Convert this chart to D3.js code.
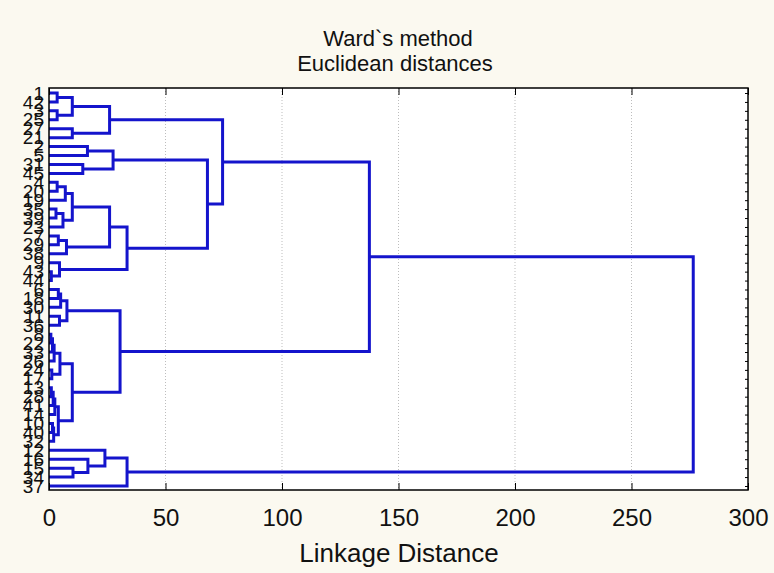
<!DOCTYPE html>
<html>
<head>
<meta charset="utf-8">
<script src="https://cdn.jsdelivr.net/npm/d3@7"></script>
<style>
  body { margin: 0; background: #fbf9f0; }
  svg { display: block; font-family: "Liberation Sans", Arial, sans-serif; }
</style>
</head>
<body>
<svg width="774" height="573"></svg>
<script>
// leaves, top to bottom
const leafLabels = ["1","42","3","25","27","21","2","5","31","45","4","20","19","35","39","23","7","29","38","9","43","44",
  "6","18","30","11","36","8","22","33","26","24","17","13","28","41","14","10","40","32","12","16","15","34","37"];

// merges: [childA, childB, linkage distance]; ids < 45 are leaves, merge k gets id 45 + k
const merges = [
  [0, 1, 3.5], [2, 3, 3.5], [45, 46, 10], [4, 5, 10], [47, 48, 26],
  [6, 7, 16.5], [8, 9, 14.5], [50, 51, 27.5],
  [10, 11, 3.5], [53, 12, 7], [13, 14, 3], [55, 15, 6], [54, 56, 10],
  [16, 17, 4], [58, 18, 7.5], [57, 59, 26], [20, 21, 1], [19, 61, 4.5], [60, 62, 33.5],
  [52, 63, 68], [49, 64, 74.5],
  [22, 23, 4], [66, 24, 5], [25, 26, 4.5], [67, 68, 7.7],
  [27, 28, 0.8], [70, 29, 1.5], [71, 30, 2.2], [31, 32, 1.2], [72, 73, 4.7],
  [33, 34, 1], [75, 35, 1.8], [76, 36, 2.5], [37, 38, 1.5], [78, 39, 2], [77, 79, 4], [74, 80, 10],
  [69, 81, 30.5], [65, 82, 137.5],
  [42, 43, 10.3], [41, 84, 16.7], [40, 85, 24], [86, 44, 33.5],
  [83, 87, 276.5]
];

const majorTicks = [0, 50, 100, 150, 200, 250, 300];
const minorTicks = d3.range(0, 301, 10);
const gridTicks = [50, 100, 150, 200, 250];

const svg = d3.select("svg");
const plotL = 49, plotR = 748, plotT = 88, plotB = 490;
const font = "Liberation Sans, Arial, sans-serif";

const x = d3.scaleLinear().domain([0, 300]).range([plotL, plotR]);
const y = d3.scalePoint().domain(d3.range(leafLabels.length)).range([93, 486]);

// plot background
svg.append("rect")
	.attr("x", plotL).attr("y", plotT)
	.attr("width", plotR - plotL).attr("height", plotB - plotT)
	.attr("fill", "white");

// grid
svg.append("g")
	.selectAll("line")
	.data(gridTicks)
	.join("line")
		.attr("x1", d => x(d)).attr("x2", d => x(d))
		.attr("y1", plotT).attr("y2", plotB)
		.attr("stroke", "#bdbdbd")
		.attr("stroke-dasharray", "1,2");

// node positions
const n = leafLabels.length;
const nodeY = [], nodeH = [];
leafLabels.forEach((d, i) => { nodeY[i] = y(i); nodeH[i] = 0; });
merges.forEach(([a, b, h], k) => {
	nodeY[n + k] = (nodeY[a] + nodeY[b]) / 2;
	nodeH[n + k] = h;
});

svg.append("g")
	.attr("fill", "none")
	.attr("stroke", "#1414cc")
	.attr("stroke-width", 3)
	.selectAll("path")
	.data(merges)
	.join("path")
		.attr("d", ([a, b, h]) => `M${x(nodeH[a])},${nodeY[a]}H${x(h)}V${nodeY[b]}H${x(nodeH[b])}`);

// axes
const axisBottom = svg.append("g").attr("transform", `translate(0,${plotB})`);
axisBottom.call(d3.axisBottom(x).tickValues(minorTicks).tickSize(-4).tickFormat(""));
axisBottom.call(d3.axisBottom(x).tickValues(majorTicks).tickSize(-7).tickPadding(19).tickFormat(d3.format("d")));
axisBottom.selectAll(".domain").remove();
axisBottom.selectAll("text").attr("font-size", 24).attr("font-family", font).attr("fill", "#111");

const axisTop = svg.append("g").attr("transform", `translate(0,${plotT})`);
axisTop.call(d3.axisTop(x).tickValues(minorTicks).tickSize(-4).tickFormat(""));
axisTop.call(d3.axisTop(x).tickValues(majorTicks).tickSize(-7).tickFormat(""));
axisTop.selectAll(".domain").remove();

const axisLeft = svg.append("g").attr("transform", `translate(${plotL},0)`);
axisLeft.call(d3.axisLeft(y).tickSize(0).tickPadding(5).tickFormat(i => leafLabels[i]));
axisLeft.selectAll(".domain").remove();
axisLeft.selectAll("text").attr("font-size", 19).attr("font-family", font).attr("fill", "#111");

const axisRight = svg.append("g").attr("transform", `translate(${plotR},0)`);
axisRight.call(d3.axisRight(y).tickSize(-3).tickFormat(""));
axisRight.selectAll(".domain").remove();

// frame
svg.append("rect")
	.attr("x", plotL).attr("y", plotT)
	.attr("width", plotR - plotL).attr("height", plotB - plotT)
	.attr("fill", "none")
	.attr("stroke", "black")
	.attr("stroke-width", 1.5);

// titles
svg.append("text")
	.attr("x", 398).attr("y", 46)
	.attr("text-anchor", "middle")
	.attr("font-size", 22)
	.attr("fill", "#111")
	.text("Ward`s method");

svg.append("text")
	.attr("x", 395).attr("y", 71)
	.attr("text-anchor", "middle")
	.attr("font-size", 22)
	.attr("fill", "#111")
	.text("Euclidean distances");

svg.append("text")
	.attr("x", 399).attr("y", 562)
	.attr("text-anchor", "middle")
	.attr("font-size", 26)
	.attr("fill", "#111")
	.text("Linkage Distance");
</script>
</body>
</html>
